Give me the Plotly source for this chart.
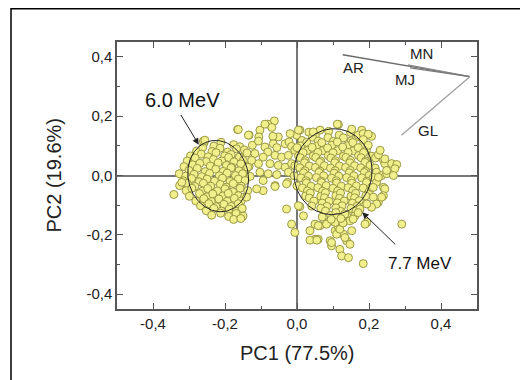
import numpy as np
import plotly.graph_objects as go

# ---------------- data ----------------
x_tick_vals = [-0.4, -0.2, 0.0, 0.2, 0.4]
x_tick_text = ["-0,4", "-0,2", "0,0", "0,2", "0,4"]
y_tick_vals = [-0.4, -0.2, 0.0, 0.2, 0.4]
y_tick_text = ["-0,4", "-0,2", "0,0", "0,2", "0,4"]
minor_vals = [-0.3, -0.1, 0.1, 0.3]

# scores of the 6.0 MeV group (PC1, PC2)
scores_6mev = [
    [-0.258, 0.111], [-0.231, 0.099], [-0.211, 0.112], [-0.176, 0.104], [-0.159, 0.097],
    [-0.279, 0.083], [-0.262, 0.094], [-0.236, 0.081], [-0.214, 0.092], [-0.193, 0.079], [-0.168, 0.090], [-0.146, 0.086],
    [-0.296, 0.066], [-0.266, 0.072], [-0.247, 0.063], [-0.225, 0.077], [-0.201, 0.066], [-0.183, 0.071], [-0.160, 0.062], [-0.139, 0.076],
    [-0.305, 0.049], [-0.283, 0.059], [-0.252, 0.047], [-0.232, 0.054], [-0.209, 0.049], [-0.190, 0.061], [-0.175, 0.046], [-0.149, 0.051],
    [-0.314, 0.030], [-0.290, 0.036], [-0.270, 0.041], [-0.241, 0.032], [-0.219, 0.043], [-0.196, 0.034], [-0.181, 0.028], [-0.156, 0.039], [-0.133, 0.031],
    [-0.300, 0.017], [-0.277, 0.024], [-0.255, 0.013], [-0.226, 0.021], [-0.205, 0.014], [-0.183, 0.026], [-0.161, 0.016], [-0.141, 0.021],
    [-0.327, 0.006], [-0.309, -0.002], [-0.286, 0.004], [-0.265, -0.004], [-0.243, 0.007], [-0.216, -0.001], [-0.194, 0.008], [-0.171, 0.000], [-0.151, 0.006], [-0.130, -0.003],
    [-0.316, -0.018], [-0.293, -0.010], [-0.272, -0.021], [-0.250, -0.012], [-0.229, -0.019], [-0.207, -0.009], [-0.186, -0.020], [-0.163, -0.012], [-0.144, -0.017],
    [-0.326, -0.034], [-0.305, -0.027], [-0.284, -0.037], [-0.260, -0.026], [-0.240, -0.036], [-0.213, -0.030], [-0.197, -0.039], [-0.177, -0.027], [-0.155, -0.036],
    [-0.308, -0.051], [-0.292, -0.043], [-0.263, -0.053], [-0.248, -0.044], [-0.221, -0.052], [-0.200, -0.045], [-0.178, -0.055], [-0.158, -0.043], [-0.137, -0.051],
    [-0.342, -0.064], [-0.299, -0.070], [-0.271, -0.061], [-0.250, -0.072], [-0.234, -0.062], [-0.206, -0.069], [-0.191, -0.060], [-0.163, -0.068], [-0.146, -0.073],
    [-0.281, -0.086], [-0.259, -0.078], [-0.238, -0.088], [-0.217, -0.079], [-0.194, -0.087], [-0.174, -0.077], [-0.155, -0.086],
    [-0.268, -0.102], [-0.245, -0.095], [-0.225, -0.105], [-0.203, -0.097], [-0.183, -0.104], [-0.163, -0.095],
    [-0.252, -0.119], [-0.231, -0.111], [-0.210, -0.120], [-0.188, -0.113], [-0.169, -0.121], [-0.152, -0.111],
    [-0.237, -0.134], [-0.212, -0.127], [-0.190, -0.138], [-0.169, -0.128], [-0.150, -0.137],
    [-0.176, -0.148], [-0.156, -0.145],
    [-0.260, 0.116], [-0.165, 0.155], [-0.320, -0.023],
]

# scores between the two groups
scores_bridge = [
    [-0.063, 0.184], [-0.081, 0.173], [-0.103, 0.153], [-0.070, 0.162], [-0.133, 0.136], [-0.106, 0.130],
    [-0.052, 0.130], [-0.067, 0.132], [-0.124, 0.102], [-0.107, 0.116], [-0.089, 0.096], [-0.081, 0.079],
    [-0.066, 0.107], [-0.056, 0.094], [-0.033, 0.107], [-0.022, 0.113], [-0.015, 0.098], [-0.001, 0.136],
    [0.008, 0.153], [-0.006, 0.085], [-0.117, 0.074], [-0.094, 0.062], [-0.061, 0.068], [-0.043, 0.062],
    [-0.024, 0.068], [-0.107, 0.040], [-0.075, 0.040], [-0.052, 0.034], [-0.033, 0.028], [-0.015, 0.040],
    [-0.103, 0.011], [-0.080, 0.006], [-0.056, 0.003], [-0.024, 0.011], [-0.094, -0.017], [-0.061, -0.034],
    [-0.026, -0.023], [-0.126, 0.051], [-0.137, 0.028], [-0.163, 0.155], [-0.135, 0.136], [-0.089, 0.173],
    [-0.019, 0.141], [-0.256, 0.119],
    [-0.029, -0.113], [-0.015, -0.164], [-0.006, -0.192], [-0.094, -0.051], [-0.061, -0.037],
    [-0.029, -0.028], [-0.140, -0.073], [-0.112, -0.045], [0.008, -0.105],
]

# scores of the 7.7 MeV group
scores_7mev = [
    [0.033, 0.146], [0.051, 0.135], [0.088, 0.149], [0.117, 0.136], [0.149, 0.145],
    [0.014, 0.118], [0.043, 0.129], [0.059, 0.116], [0.086, 0.128], [0.101, 0.115], [0.129, 0.127], [0.151, 0.117], [0.166, 0.129],
    [0.011, 0.100], [0.027, 0.112], [0.055, 0.099], [0.069, 0.111], [0.097, 0.102], [0.112, 0.113], [0.140, 0.100], [0.155, 0.111], [0.183, 0.101],
    [0.000, 0.094], [0.028, 0.084], [0.042, 0.095], [0.070, 0.083], [0.085, 0.093], [0.113, 0.084], [0.127, 0.096], [0.156, 0.083], [0.170, 0.094], [0.193, 0.085],
    [0.004, 0.066], [0.017, 0.077], [0.045, 0.066], [0.058, 0.078], [0.087, 0.067], [0.100, 0.077], [0.129, 0.065], [0.142, 0.078], [0.171, 0.067], [0.185, 0.077], [0.208, 0.065],
    [0.009, 0.060], [0.023, 0.050], [0.052, 0.061], [0.066, 0.049], [0.094, 0.059], [0.107, 0.050], [0.136, 0.061], [0.149, 0.051], [0.178, 0.060], [0.191, 0.049], [0.218, 0.059],
    [-0.006, 0.033], [0.021, 0.043], [0.034, 0.032], [0.063, 0.044], [0.076, 0.033], [0.105, 0.043], [0.118, 0.032], [0.147, 0.043], [0.160, 0.033], [0.189, 0.044], [0.203, 0.034],
    [0.008, 0.026], [0.022, 0.016], [0.051, 0.027], [0.064, 0.015], [0.093, 0.025], [0.106, 0.016], [0.135, 0.027], [0.148, 0.017], [0.177, 0.026], [0.190, 0.015], [0.217, 0.025],
    [-0.008, -0.001], [0.018, 0.009], [0.032, -0.002], [0.061, 0.010], [0.074, -0.001], [0.103, 0.008], [0.116, -0.002], [0.145, 0.009], [0.158, -0.001], [0.187, 0.010], [0.200, 0.000],
    [0.011, -0.008], [0.025, -0.018], [0.054, -0.007], [0.067, -0.019], [0.096, -0.009], [0.109, -0.018], [0.138, -0.007], [0.151, -0.017], [0.180, -0.008], [0.194, -0.019],
    [0.000, -0.035], [0.026, -0.025], [0.039, -0.036], [0.068, -0.024], [0.081, -0.034], [0.110, -0.025], [0.123, -0.036], [0.152, -0.026], [0.165, -0.035], [0.193, -0.024],
    [0.015, -0.042], [0.029, -0.052], [0.058, -0.041], [0.071, -0.053], [0.100, -0.043], [0.113, -0.052], [0.142, -0.041], [0.155, -0.051], [0.184, -0.042], [0.201, -0.053],
    [0.024, -0.069], [0.037, -0.059], [0.066, -0.070], [0.079, -0.058], [0.108, -0.068], [0.121, -0.059], [0.150, -0.070], [0.163, -0.060], [0.191, -0.069],
    [0.034, -0.076], [0.047, -0.086], [0.076, -0.075], [0.089, -0.087], [0.118, -0.077], [0.131, -0.086], [0.160, -0.075], [0.173, -0.085],
    [0.041, -0.103], [0.070, -0.093], [0.083, -0.104], [0.112, -0.092], [0.125, -0.102], [0.154, -0.093], [0.167, -0.103],
    [0.066, -0.110], [0.079, -0.120], [0.108, -0.109], [0.121, -0.121], [0.150, -0.111], [0.164, -0.120],
    [0.094, -0.134], [0.108, -0.125], [0.138, -0.135],
    [0.115, 0.172], [0.152, 0.156], [0.064, 0.153], [0.045, 0.147], [0.180, 0.153], [0.194, 0.136],
    [0.207, 0.132], [0.004, 0.153], [0.170, 0.136], [0.184, 0.141], [0.198, 0.139], [0.184, 0.121],
    [0.198, 0.102], [0.112, 0.173],
]

# scores to the right and in the lower tail
scores_tail = [
    [0.240, 0.053], [0.244, 0.040], [0.263, 0.040], [0.277, 0.037], [0.272, 0.023], [0.221, 0.011],
    [0.235, 0.000], [0.249, 0.006], [0.268, 0.000], [0.212, -0.006], [0.221, -0.023], [0.240, -0.040],
    [0.207, -0.040], [0.244, 0.056], [0.226, -0.006], [0.249, 0.017], [0.212, -0.040], [0.244, -0.045],
    [0.240, -0.068], [0.226, -0.090], [0.212, -0.073], [0.235, -0.073], [0.221, -0.096], [0.207, -0.107],
    [0.194, -0.096], [0.175, -0.113], [0.226, 0.070], [0.231, 0.085],
    [0.036, -0.186], [0.050, -0.215], [0.059, -0.215], [0.092, -0.220], [0.096, -0.237], [0.119, -0.249],
    [0.124, -0.271], [0.143, -0.277], [0.184, -0.297], [0.064, -0.169], [0.087, -0.158], [0.106, -0.186],
    [0.115, -0.175], [0.129, -0.198], [0.138, -0.220], [0.147, -0.153], [0.161, -0.136], [0.194, -0.158],
    [0.291, -0.164], [0.110, -0.141], [0.133, -0.130], [0.147, -0.232], [0.133, -0.209], [0.110, -0.198],
    [0.096, -0.226], [0.119, -0.181], [0.152, -0.186], [0.189, -0.164], [0.106, -0.158], [0.156, -0.147],
    [0.050, -0.164], [0.059, -0.169], [0.036, -0.218], [0.055, -0.218], [0.082, -0.164], [0.018, -0.136],
    [0.004, -0.102], [0.070, -0.140], [0.095, -0.148], [0.128, -0.160], [0.170, -0.125], [0.122, -0.145],
]

# loadings (drawn from a common hinge point)
loading_names = ["AR", "MN", "MJ", "GL"]
loading_start = [0.480, 0.333]
loading_end_pc1 = [0.127, 0.308, 0.314, 0.290]
loading_end_pc2 = [0.407, 0.373, 0.363, 0.136]
loading_label_pc1 = [0.156, 0.347, 0.300, 0.364]
loading_label_pc2 = [0.363, 0.410, 0.322, 0.152]
loading_colors = ["#6a6a6a", "#8a8a8a", "#7a7a7a", "#a0a0a0"]

# group ellipses: centre (data), semi-axes (px), tilt (deg)
ellipse_centres = [[-0.219, -0.002], [0.100, 0.013]]
ellipse_axes_px = [[36, 30], [43, 39]]
ellipse_tilt_deg = [-14, 8]

# group labels and arrows
group_labels = ["6.0 MeV", "7.7 MeV"]
group_label_pos = [[-0.317, 0.254], [0.342, -0.298]]
group_label_size = [20, 17]
arrow_tail = [[-0.325, 0.209], [0.277, -0.237]]
arrow_head = [[-0.273, 0.104], [0.181, -0.124]]

# ---------------- figure ----------------
# page body has an 8 px margin, so the figure is 8 px smaller and offset
W, H = 520, 372
L, R, T, B = 109, 51, 34, 71
x_range = [-0.5, 0.5]
y_range = [-0.45, 0.45]
px_x = (W - L - R) / (x_range[1] - x_range[0])
px_y = (H - T - B) / (y_range[1] - y_range[0])

FONT = "Liberation Sans, Arial, sans-serif"
fig = go.Figure()

all_scores = scores_6mev + scores_bridge + scores_7mev + scores_tail
fig.add_trace(go.Scatter(
    x=[p[0] for p in all_scores], y=[p[1] for p in all_scores],
    mode="markers",
    marker=dict(size=8, color="#f1f08c", line=dict(color="#9a9844", width=1)),
    showlegend=False, hoverinfo="skip"))

for i in range(len(loading_names)):
    fig.add_trace(go.Scatter(
        x=[loading_start[0], loading_end_pc1[i]], y=[loading_start[1], loading_end_pc2[i]],
        mode="lines", line=dict(color=loading_colors[i], width=1.3),
        showlegend=False, hoverinfo="skip"))

t = np.linspace(0, 2 * np.pi, 200)
for (cx, cy), (a, b), ang in zip(ellipse_centres, ellipse_axes_px, ellipse_tilt_deg):
    th = np.deg2rad(ang)
    u = b * np.cos(t)
    v = a * np.sin(t)
    dx = u * np.cos(th) + v * np.sin(th)
    dy = -u * np.sin(th) + v * np.cos(th)
    fig.add_trace(go.Scatter(x=cx + dx / px_x, y=cy + dy / px_y, mode="lines",
                             line=dict(color="#222222", width=1),
                             showlegend=False, hoverinfo="skip"))

annotations = []
for i, n in enumerate(loading_names):
    annotations.append(dict(x=loading_label_pc1[i], y=loading_label_pc2[i], text=n,
                            showarrow=False, font=dict(family=FONT, size=15, color="#222")))
for i, g in enumerate(group_labels):
    annotations.append(dict(x=group_label_pos[i][0], y=group_label_pos[i][1], text=g,
                            showarrow=False, font=dict(family=FONT, size=group_label_size[i], color="#111")))
    annotations.append(dict(x=arrow_head[i][0], y=arrow_head[i][1],
                            ax=arrow_tail[i][0], ay=arrow_tail[i][1],
                            axref="x", ayref="y", xref="x", yref="y", text="",
                            showarrow=True, arrowhead=2, arrowsize=1.3, arrowwidth=1,
                            arrowcolor="#222"))
annotations.append(dict(xref="paper", yref="paper", x=0.5, y=0, yshift=-57,
                        text="PC1 (77.5%)", showarrow=False,
                        font=dict(family=FONT, size=20, color="#222")))
annotations.append(dict(xref="paper", yref="paper", x=0, y=0.5, xshift=-77,
                        text="PC2 (19.6%)", showarrow=False, textangle=-90,
                        font=dict(family=FONT, size=20, color="#222")))

axis_common = dict(
    showgrid=False, zeroline=True, zerolinecolor="#777", zerolinewidth=1.5,
    showline=True, linecolor="#555", linewidth=1.5, mirror="ticks",
    ticks="inside", ticklen=6, tickwidth=1.2, tickcolor="#555",
    tickmode="array",
    tickfont=dict(family=FONT, size=15, color="#222"),
    minor=dict(tickmode="array", tickvals=minor_vals, ticks="inside", ticklen=3,
               tickwidth=1.2, tickcolor="#555"),
)

fig.update_layout(
    width=W, height=H,
    margin=dict(l=L, r=R, t=T, b=B),
    paper_bgcolor="white", plot_bgcolor="white",
    xaxis=dict(range=x_range, tickvals=x_tick_vals, ticktext=x_tick_text, **axis_common),
    yaxis=dict(range=y_range, tickvals=y_tick_vals, ticktext=y_tick_text, **axis_common),
    annotations=annotations,
    shapes=[dict(type="rect", xref="paper", yref="paper",
                 x0=(3 - L) / (W - L - R), x1=1.3,
                 y0=-0.4, y1=(H - B - 0.75) / (H - T - B),
                 line=dict(color="black", width=1.5), layer="below")],
)

fig.write_html("out.html")
